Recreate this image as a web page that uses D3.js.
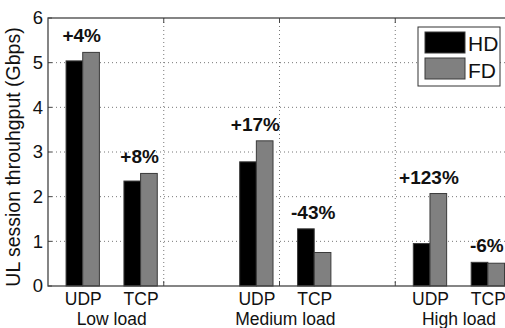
<!DOCTYPE html>
<html>
<head>
<meta charset="utf-8">
<script src="https://cdn.jsdelivr.net/npm/d3@7"></script>
<style>
  html, body { margin: 0; padding: 0; background: #fff; }
  svg { display: block; font-family: "Liberation Sans", Arial, sans-serif; }
</style>
</head>
<body>
<svg id="chart" width="505" height="328"></svg>
<script>
// ---- data ----
const categories = ["UDP", "TCP", "UDP", "TCP", "UDP", "TCP"];
const positions = [1, 2, 4, 5, 7, 8];
const groups = ["Low load", "Medium load", "High load"];
const groupPositions = [1.5, 4.5, 7.5];
const hdValues = [5.04, 2.35, 2.78, 1.28, 0.95, 0.53];
const fdValues = [5.23, 2.52, 3.25, 0.75, 2.07, 0.51];
const gainLabels = ["+4%", "+8%", "+17%", "-43%", "+123%", "-6%"];
const yTicks = [0, 1, 2, 3, 4, 5, 6];
const xGridTicks = [2.4, 4.4, 6.4];
const seriesNames = ["HD", "FD"];
const seriesColors = ["#000000", "#808080"];

(function () {
// ---- layout ----
const svg = d3.select("#chart");
const pLeft = 48, pRight = 511, pTop = 18, pBottom = 286;
const x = d3.scaleLinear().domain([0.4, 8.4]).range([pLeft, pRight]);
const y = d3.scaleLinear().domain([0, 6]).range([pBottom, pTop]);
const barW = 0.288; // in x units

// gridlines
const grid = svg.append("g");
grid.selectAll("line.h").data(yTicks.filter(d => d > 0 && d < 6)).join("line")
  .attr("x1", pLeft).attr("x2", pRight)
  .attr("y1", d => y(d)).attr("y2", d => y(d))
  .attr("stroke", "#777").attr("stroke-width", 1).attr("stroke-dasharray", "1,3");
grid.selectAll("line.v").data(xGridTicks).join("line")
  .attr("x1", d => x(d)).attr("x2", d => x(d))
  .attr("y1", pTop).attr("y2", pBottom)
  .attr("stroke", "#777").attr("stroke-width", 1).attr("stroke-dasharray", "1,3");

// small inside tick marks (bottom/top for x grid, left for y)
const tk = svg.append("g").attr("stroke", "#444").attr("stroke-width", 1);
xGridTicks.forEach(d => {
  tk.append("line").attr("x1", x(d)).attr("x2", x(d)).attr("y1", pBottom).attr("y2", pBottom - 5);
  tk.append("line").attr("x1", x(d)).attr("x2", x(d)).attr("y1", pTop).attr("y2", pTop + 5);
});
yTicks.forEach(d => {
  tk.append("line").attr("x1", pLeft).attr("x2", pLeft + 4).attr("y1", y(d)).attr("y2", y(d));
});

// bars
const bars = svg.append("g");
const seriesData = [hdValues, fdValues];
seriesData.forEach((vals, si) => {
  bars.selectAll("rect.s" + si).data(vals).join("rect")
    .attr("x", (d, i) => x(positions[i] - barW + si * barW))
    .attr("width", x(barW) - x(0))
    .attr("y", d => y(d))
    .attr("height", d => y(0) - y(d))
    .attr("fill", seriesColors[si])
    .attr("stroke", "#3a3a3a").attr("stroke-width", 1);
});

// frame
svg.append("rect").attr("x", pLeft).attr("y", pTop)
  .attr("width", pRight - pLeft).attr("height", pBottom - pTop)
  .attr("fill", "none").attr("stroke", "#444").attr("stroke-width", 1.3);

// y axis
const yAxis = d3.axisLeft(y).tickValues(yTicks).tickSize(0).tickPadding(5).tickFormat(d3.format("d"));
const yg = svg.append("g").attr("transform", `translate(${pLeft},0)`).call(yAxis);
yg.select(".domain").remove();
yg.selectAll("text").attr("font-size", 18.5).attr("fill", "#111")
  .attr("font-family", "Liberation Sans, Arial, sans-serif");

// x axis labels
const xAxis = d3.axisBottom(x).tickValues(positions).tickSize(0).tickPadding(7)
  .tickFormat((d, i) => categories[i]);
const xg = svg.append("g").attr("transform", `translate(0,${pBottom})`).call(xAxis);
xg.select(".domain").remove();
xg.selectAll("text").attr("font-size", 17.5).attr("fill", "#111")
  .attr("font-family", "Liberation Sans, Arial, sans-serif");

// group labels
svg.append("g").selectAll("text").data(groups).join("text")
  .attr("x", (d, i) => x(groupPositions[i]))
  .attr("y", 325)
  .attr("text-anchor", "middle").attr("font-size", 17.5).attr("fill", "#111")
  .text(d => d);

// gain labels
svg.append("g").selectAll("text").data(gainLabels).join("text")
  .attr("x", (d, i) => x(positions[i]) - 1)
  .attr("y", (d, i) => y(Math.max(hdValues[i], fdValues[i])) - 10)
  .attr("text-anchor", "middle").attr("font-size", 19).attr("font-weight", "bold")
  .attr("fill", "#111")
  .text(d => d);

// y axis title
svg.append("text")
  .attr("transform", `translate(20,157) rotate(-90)`)
  .attr("text-anchor", "middle").attr("font-size", 19.5).attr("fill", "#111")
  .text("UL session throuhgput (Gbps)");

// legend
const lg = svg.append("g");
lg.append("rect").attr("x", 418).attr("y", 27).attr("width", 82).attr("height", 59)
  .attr("fill", "#fff").attr("stroke", "#333").attr("stroke-width", 1);
seriesNames.forEach((name, i) => {
  lg.append("rect").attr("x", 425).attr("y", 32 + i * 26).attr("width", 40).attr("height", 21)
    .attr("fill", seriesColors[i]).attr("stroke", "#3a3a3a");
  lg.append("text").attr("x", 468).attr("y", 51 + i * 27)
    .attr("font-size", 21).attr("fill", "#111").text(name);
});
})();
</script>
</body>
</html>
